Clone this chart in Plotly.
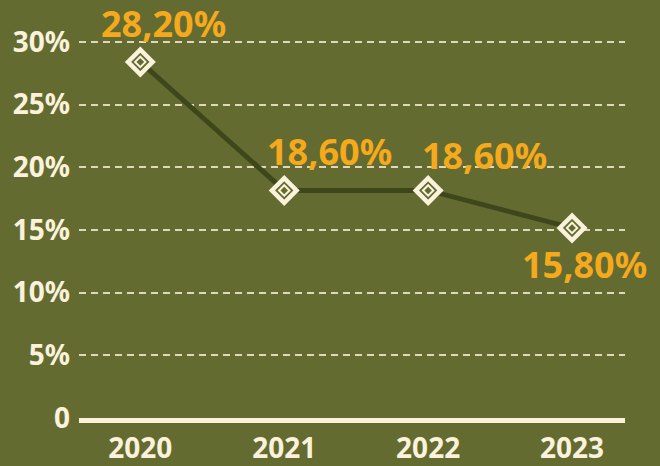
import plotly.graph_objects as go

# ---- data ----
years = ["2020", "2021", "2022", "2023"]
values = [28.2, 18.6, 18.6, 15.8]
value_labels = ["28,20%", "18,60%", "18,60%", "15,80%"]
y_tick_vals = [0, 5, 10, 15, 20, 25, 30]
y_tick_text = ["0", "5%", "10%", "15%", "20%", "25%", "30%"]

BG = "#636b31"
CREAM = "#fbf2dc"
ORANGE = "#f5a91c"
LINE = "#3e471c"
FONT = "Noto Sans"

x_idx = list(range(len(years)))

# label offsets (pixels) relative to each point
label_shift = [(23, 38), (45, 39), (56, 35), (12, -37)]

fig = go.Figure()

# invisible trace so the tick/grid axis is drawn
fig.add_trace(go.Scatter(
    x=[x_idx[0]], y=[y_tick_vals[0]], yaxis="y", mode="markers",
    marker=dict(opacity=0), hoverinfo="skip", showlegend=False,
))
fig.add_trace(go.Scatter(
    x=x_idx, y=values, yaxis="y2", mode="lines",
    line=dict(color=LINE, width=5), hoverinfo="skip", showlegend=False,
))
fig.add_trace(go.Scatter(
    x=x_idx, y=values, yaxis="y2", mode="markers",
    marker=dict(symbol="diamond", size=19, color=BG,
                line=dict(color=CREAM, width=4.5)),
    showlegend=False, cliponaxis=False,
))
fig.add_trace(go.Scatter(
    x=x_idx, y=values, yaxis="y2", mode="markers",
    marker=dict(symbol="diamond-open", size=8, color=CREAM,
                line=dict(color=CREAM, width=2)),
    showlegend=False, cliponaxis=False, hoverinfo="skip",
))

for i, (v, t) in enumerate(zip(values, value_labels)):
    dx, dy = label_shift[i]
    fig.add_annotation(
        x=x_idx[i], y=v, xref="x", yref="y2", text=t, showarrow=False,
        xshift=dx, yshift=dy,
        font=dict(family=FONT, size=36, color=ORANGE, weight="bold"),
    )

fig.update_layout(
    width=660, height=466,
    paper_bgcolor=BG, plot_bgcolor=BG,
    margin=dict(l=79, r=35, t=37, b=48, autoexpand=False),
    showlegend=False,
    xaxis=dict(
        range=[-0.426, 3.368], tickvals=x_idx, ticktext=years,
        showgrid=False, zeroline=False, automargin=False,
        showline=True, linecolor=CREAM, linewidth=5,
        tickfont=dict(family=FONT, size=28, color=CREAM, weight="bold"),
        ticks="", ticklabelstandoff=1,
    ),
    yaxis=dict(
        range=[0, 30.4], tickvals=y_tick_vals, ticktext=y_tick_text,
        showgrid=True, gridcolor="rgba(245,235,210,0.85)", gridwidth=1.5,
        griddash="7px,5px", zeroline=False, showline=False, automargin=False,
        tickfont=dict(family=FONT, size=28, color=CREAM, weight="bold"),
        ticks="", ticklabelstandoff=8,
    ),
    yaxis2=dict(
        range=[1.606, 30.06], overlaying="y", side="left", automargin=False,
        showgrid=False, showticklabels=False, zeroline=False, showline=False,
        ticks="",
    ),
)

fig.write_html(
    "out.html",
    config={"displayModeBar": False},
    post_script="document.body.style.margin='0';document.body.style.padding='0';",
)
